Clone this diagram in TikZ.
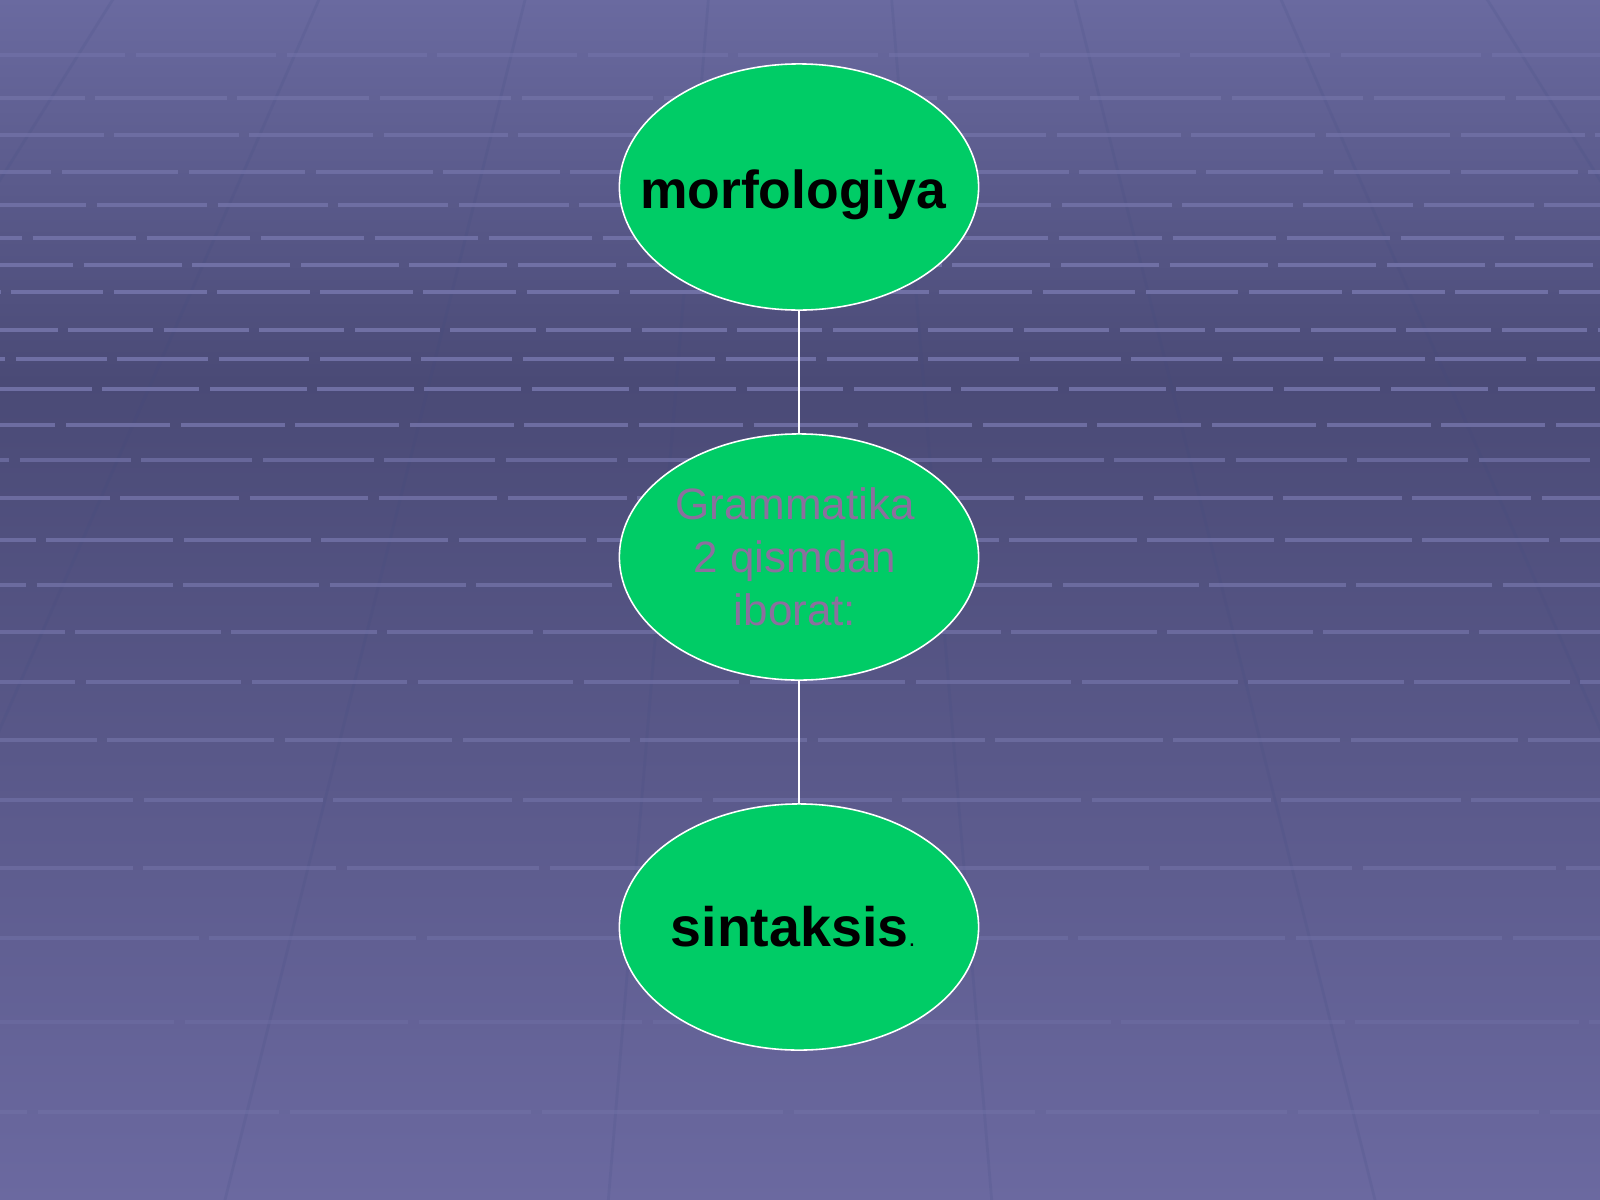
\documentclass[tikz,border=0pt]{standalone}
\usepackage{fontspec}
\setmainfont{Liberation Sans}
\usetikzlibrary{shapes.geometric}
\definecolor{bgtop}{HTML}{6A6AA0}
\definecolor{bgmid}{HTML}{4A4A76}
\definecolor{bgbot}{HTML}{6B69A0}
\definecolor{gridline}{HTML}{7676AC}
\definecolor{fancol}{HTML}{3E4A80}
\definecolor{ellgreen}{HTML}{00CC66}
\definecolor{midtext}{HTML}{8C6F9E}
\tikzset{
  ell/.style={ellipse, minimum width=3.59cm, minimum height=2.46cm, inner sep=0pt,
              fill=ellgreen, draw=white, line width=0.45pt},
  bigtxt/.style={text=black, inner sep=0pt},
  smalltxt/.style={font=\fontsize{12.5}{15.1}\selectfont, text=midtext, align=center, inner sep=0pt},
  link/.style={draw=white, line width=0.75pt},
  rowline/.style={draw=gridline, line width=1pt},
  fanline/.style={draw=fancol, line width=0.8pt, opacity=0.14}
}
\begin{document}
\begin{tikzpicture}[x=0.01cm,y=-0.01cm]
\useasboundingbox (0,0) rectangle (1600,1200);
% background
\shade[top color=bgtop, bottom color=bgmid] (0,-1) rectangle (1600,381);
\shade[top color=bgmid, bottom color=bgbot] (0,380) rectangle (1600,1201);
\begin{scope}
\clip (0,0) rectangle (1600,1200);
% faint perspective lines
\foreach \x in {-3400,-2500,-1800,-1200,-700,-250,200,600,1000,1400,1850,2300,2800,3400,4100}
  \draw[fanline] (800,-1100) -- (\x,1300);
% horizontal brick lines
\foreach \yy/\op [count=\i] in {55/0.5,98/0.6,135/0.65,172/0.7,205/0.75,238/0.8,265/0.85,292/0.85,330/0.85,359/0.85,389/0.85,425/0.8,460/0.65,498/0.75,540/0.75,585/0.7,632/0.65,682/0.65,740/0.6,800/0.55,868/0.5,938/0.45,1022/0.3,1112/0.4}
{
  \pgfmathsetmacro\dl{(85+abs(\yy-330)*0.2)*0.2845}
  \pgfmathsetmacro\ph{mod(\i*47,97)}
  \draw[rowline, opacity=\op, dash pattern=on \dl pt off 3pt, dash phase=\ph pt] (0,\yy) -- (1600,\yy);
}
\end{scope}
% nodes
\node[ell] (m) at (799,187) {};
\node[ell] (g) at (799,557) {};
\node[ell] (s) at (799,927) {};
\node[bigtxt, font=\fontsize{15.2}{18}\selectfont\bfseries] (mt) at (793,195) {morfologiya};
\node[smalltxt] (gt) at (795,557) {Grammatika\\2 qismdan\\iborat:};
\node[bigtxt, font=\fontsize{15.8}{18}\selectfont\bfseries] (st) at (793,927) {sintaksis{\fontsize{7}{8}\selectfont\mdseries.}};
% connectors
\draw[link] (m) -- (g);
\draw[link] (g) -- (s);
\end{tikzpicture}
\end{document}
